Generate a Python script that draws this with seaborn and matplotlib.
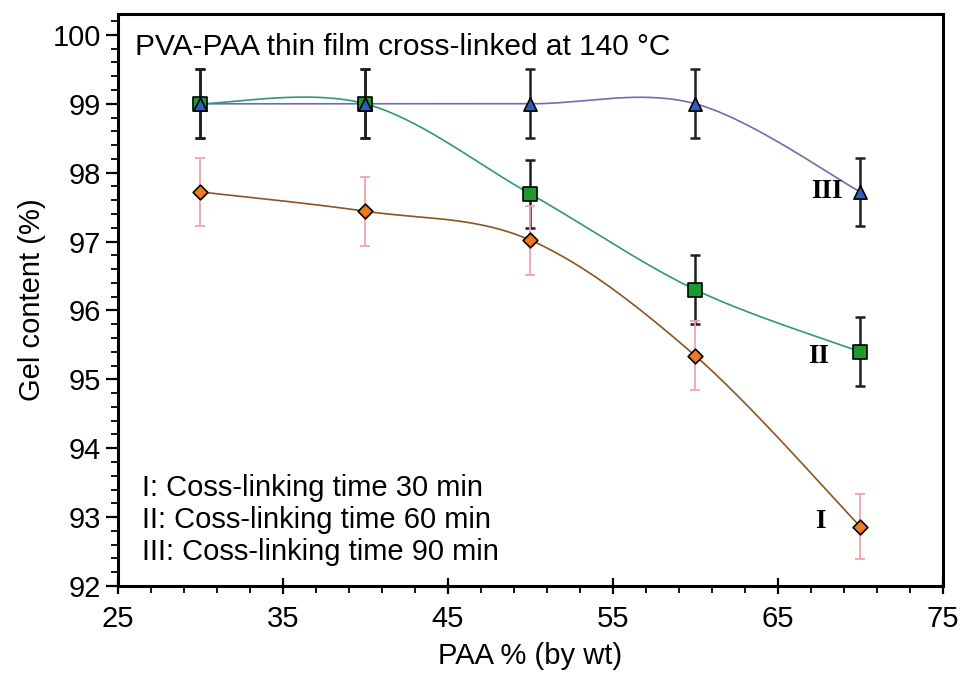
import numpy as np
import pandas as pd
import matplotlib
matplotlib.use("Agg")
import matplotlib.pyplot as plt
from matplotlib.ticker import MultipleLocator
import seaborn as sns

# PAA content of the films (% by weight)
paa = [30, 40, 50, 60, 70]

# Gel content (%) for each cross-linking time
gel_30min = [97.72, 97.44, 97.02, 95.34, 92.86]
gel_60min = [99.0, 99.0, 97.69, 96.30, 95.40]
gel_90min = [99.0, 99.0, 99.0, 99.0, 97.72]

# Standard deviations
err_30min = [0.5, 0.5, 0.5, 0.5, 0.47]
err_60min = [0.5, 0.5, 0.5, 0.5, 0.5]
err_90min = [0.5, 0.5, 0.5, 0.5, 0.5]

series_names = ["I", "II", "III"]
legend_lines = ["I: Coss-linking time 30 min",
                "II: Coss-linking time 60 min",
                "III: Coss-linking time 90 min"]


def smooth_curve(x, y, n=60, t=1.0 / 6.0):
    """Piecewise cubic Bezier through the points (spreadsheet-style smoothing)."""
    x = np.asarray(x, float)
    y = np.asarray(y, float)
    px = np.concatenate([[x[0]], x, [x[-1]]])
    py = np.concatenate([[y[0]], y, [y[-1]]])
    s = np.linspace(0, 1, n)
    xs, ys = [], []
    for i in range(len(x) - 1):
        p0 = np.array([px[i + 1], py[i + 1]])
        p3 = np.array([px[i + 2], py[i + 2]])
        c1 = p0 + t * (np.array([px[i + 2], py[i + 2]]) - np.array([px[i], py[i]]))
        c2 = p3 - t * (np.array([px[i + 3], py[i + 3]]) - p0)
        b = ((1 - s) ** 3)[:, None] * p0 + (3 * (1 - s) ** 2 * s)[:, None] * c1 \
            + (3 * (1 - s) * s ** 2)[:, None] * c2 + (s ** 3)[:, None] * p3
        xs.append(b[:, 0] if i == 0 else b[1:, 0])
        ys.append(b[:, 1] if i == 0 else b[1:, 1])
    return np.concatenate(xs), np.concatenate(ys)


sns.set_theme(style="white")
plt.rcParams["font.family"] = ["Liberation Sans", "DejaVu Sans"]
plt.rcParams.update({"text.color": "black", "axes.labelcolor": "black",
                     "xtick.color": "black", "ytick.color": "black"})

fig = plt.figure(figsize=(9.7, 6.79), dpi=100)
ax = fig.add_axes([0.1216, 0.137, 0.8505, 0.842])

styles = {
    "I":   dict(y=gel_30min, e=err_30min, line="#8E5420", face="#F07A22",
                marker="D", ms=7.5, ecol="#F2A3AC", elw=1.3),
    "II":  dict(y=gel_60min, e=err_60min, line="#2E9A74", face="#1E9830",
                marker="s", ms=9.5, ecol="#1E1E1E", elw=1.8),
    "III": dict(y=gel_90min, e=err_90min, line="#6E6EAA", face="#2F5EBE",
                marker="^", ms=9.5, ecol="#1E1E1E", elw=1.8),
}

for name in ["I", "II", "III"]:
    st = styles[name]
    cx, cy = smooth_curve(paa, st["y"])
    curve = pd.DataFrame({"x": cx, "y": cy})
    sns.lineplot(data=curve, x="x", y="y", ax=ax, color=st["line"], lw=1.2,
                 sort=False, estimator=None, zorder=2)

for name in ["III", "II", "I"]:
    st = styles[name]
    ax.errorbar(paa, st["y"], yerr=st["e"], fmt="none", ecolor=st["ecol"],
                elinewidth=st["elw"], capsize=3.5, capthick=st["elw"], zorder=3)

for name in ["I", "II", "III"]:
    st = styles[name]
    pts = pd.DataFrame({"x": paa, "y": st["y"]})
    sns.scatterplot(data=pts, x="x", y="y", ax=ax, marker=st["marker"],
                    s=st["ms"] ** 2, color=st["face"], edgecolor="black",
                    linewidth=1.2, zorder=4)

ax.set_xlim(25, 75)
ax.set_ylim(92, 100.3)
ax.xaxis.set_major_locator(MultipleLocator(10, offset=5))
ax.xaxis.set_minor_locator(MultipleLocator(2, offset=1))
ax.yaxis.set_major_locator(MultipleLocator(1))
ax.yaxis.set_minor_locator(MultipleLocator(0.2))

for sp in ax.spines.values():
    sp.set_color("black")
    sp.set_linewidth(2.2)

ax.tick_params(axis="y", which="major", direction="out", length=9,
               width=1.6, labelsize=21, pad=3, left=True)
ax.tick_params(axis="y", which="minor", direction="out", length=5,
               width=1.3, left=True)
ax.tick_params(axis="x", which="major", direction="inout", length=12,
               width=1.6, labelsize=21, pad=8, bottom=True)
ax.tick_params(axis="x", which="minor", direction="out", length=5,
               width=1.3, bottom=True)

ax.set_xlabel("PAA % (by wt)", fontsize=21, labelpad=6)
ax.set_ylabel("Gel content (%)", fontsize=21, labelpad=5)

ax.text(0.021, 0.968, "PVA-PAA thin film cross-linked at 140 °C",
        transform=ax.transAxes, fontsize=21.5, ha="left", va="top")

for i, line in enumerate(legend_lines):
    ax.text(0.029, 0.172 - i * 0.056, line, transform=ax.transAxes,
            fontsize=21, ha="left", va="center")

# Series identifiers next to the last points
label_pos = {"I": (paa[-1] - 2.1, gel_30min[-1] + 0.07),
             "II": (paa[-1] - 1.9, gel_60min[-1] - 0.07),
             "III": (paa[-1] - 1.05, gel_90min[-1])}
for name in series_names:
    lx, ly = label_pos[name]
    ax.text(lx, ly, name, fontsize=19.5, fontweight="bold",
            family=["Liberation Serif", "DejaVu Serif"], ha="right",
            va="center")

fig.savefig("out.png", dpi=100)
